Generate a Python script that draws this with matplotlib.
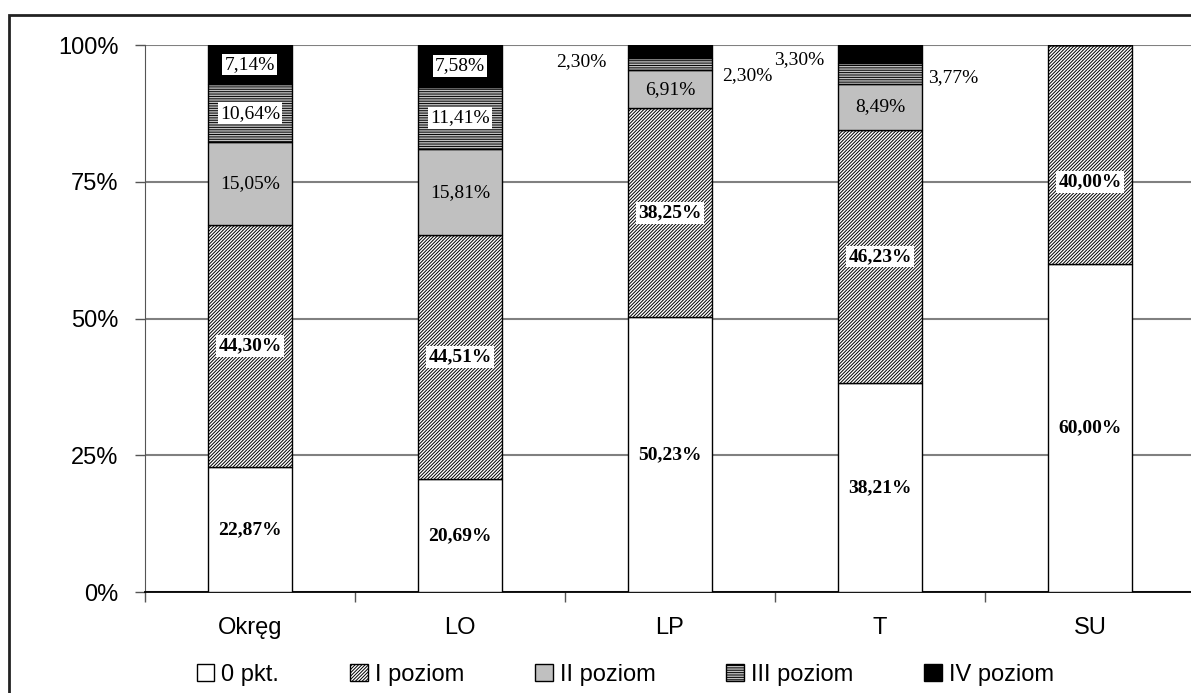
import matplotlib.pyplot as plt
from matplotlib.patches import Rectangle
import numpy as np

plt.rcParams['hatch.linewidth'] = 0.7

categories = ["Okręg", "LO", "LP", "T", "SU"]
series = ["0 pkt.", "I poziom", "II poziom", "III poziom", "IV poziom"]
pkt0 = [22.87, 20.69, 50.23, 38.21, 60.00]
poz1 = [44.30, 44.51, 38.25, 46.23, 40.00]
poz2 = [15.05, 15.81, 6.91, 8.49, 0.0]
poz3 = [10.64, 11.41, 2.30, 3.77, 0.0]
poz4 = [7.14, 7.58, 2.30, 3.30, 0.0]

faces = ["white", "white", "#c0c0c0", "#c0c0c0", "black"]
hatches = [None, "//////////", None, "-------", None]

fig = plt.figure(figsize=(11.91, 6.93), dpi=100)
ax = fig.add_axes([0.1217, 0.1457, 0.8817, 0.7893])

# ramka wokol wykresu
fig.patches.append(Rectangle((0.0076, -0.05), 1.2, 0.9784 + 0.05, transform=fig.transFigure,
                             fill=False, edgecolor="#222222", linewidth=2, zorder=0))

x = np.arange(len(categories))
data = [pkt0, poz1, poz2, poz3, poz4]
bottom = np.zeros(len(categories))
bars = []
for vals, name, fc, h in zip(data, series, faces, hatches):
    b = ax.bar(x, vals, 0.4, bottom=bottom, color=fc, edgecolor="black", hatch=h,
               linewidth=1, label=name, zorder=3)
    bars.append((b, np.array(vals), bottom.copy()))
    bottom = bottom + np.array(vals)

def fmt(v):
    return ("%.2f%%" % v).replace(".", ",")

lab_font = dict(family="Liberation Serif", fontsize=14, ha="center", va="center", zorder=5)
white_box = dict(boxstyle="square,pad=0.12", facecolor="white", edgecolor="none")

for si, (b, vals, bot) in enumerate(bars):
    for ci in range(len(categories)):
        v = vals[ci]
        if v <= 0:
            continue
        cx = x[ci]
        cy = bot[ci] + v / 2
        weight = "bold" if si < 2 else "normal"
        box = white_box if si in (1, 3, 4) else None
        if ci in (2, 3) and si >= 3:
            continue
        if ci == 4 and si == 1:
            cy = 75
        ax.text(cx, cy, fmt(v), fontweight=weight, bbox=box, **lab_font)

# etykiety poza slupkami
ax.text(x[2] - 0.42, 97.0, fmt(poz4[2]), **lab_font)
ax.text(x[2] + 0.37, 94.5, fmt(poz3[2]), **lab_font)
ax.text(x[3] - 0.385, 97.3, fmt(poz4[3]), **lab_font)
ax.text(x[3] + 0.35, 94.0, fmt(poz3[3]), **lab_font)

ax.set_xlim(-0.5, len(categories) - 0.5)
ax.set_ylim(0, 100)
ax.set_yticks([0, 25, 50, 75, 100])
ax.set_yticklabels(["0%", "25%", "50%", "75%", "100%"], family="Liberation Sans", fontsize=17)
ax.set_xticks(x)
ax.set_xticklabels(categories, family="Liberation Sans", fontsize=17)
ax.tick_params(axis="x", length=0, pad=18)
ax.set_xticks(np.arange(-0.5, len(categories)), minor=True)
ax.tick_params(axis="x", which="minor", length=7, width=1, color="#555555")
ax.tick_params(axis="y", length=7, width=1, color="#555555", pad=12)
ax.grid(axis="y", color="#808080", linewidth=1.5, zorder=0)
for s in ["top", "right"]:
    ax.spines[s].set_visible(False)
ax.spines["left"].set_color("#555555")
ax.spines["bottom"].set_color("black")
ax.spines["bottom"].set_linewidth(1.3)

fig.legend(loc="center", bbox_to_anchor=(0.525, 0.026), ncol=5, frameon=False,
           prop={"family": "Liberation Sans", "size": 17}, handlelength=0.75,
           handleheight=0.75, handletextpad=0.3, columnspacing=3.0)

fig.savefig("out.png", dpi=100)
